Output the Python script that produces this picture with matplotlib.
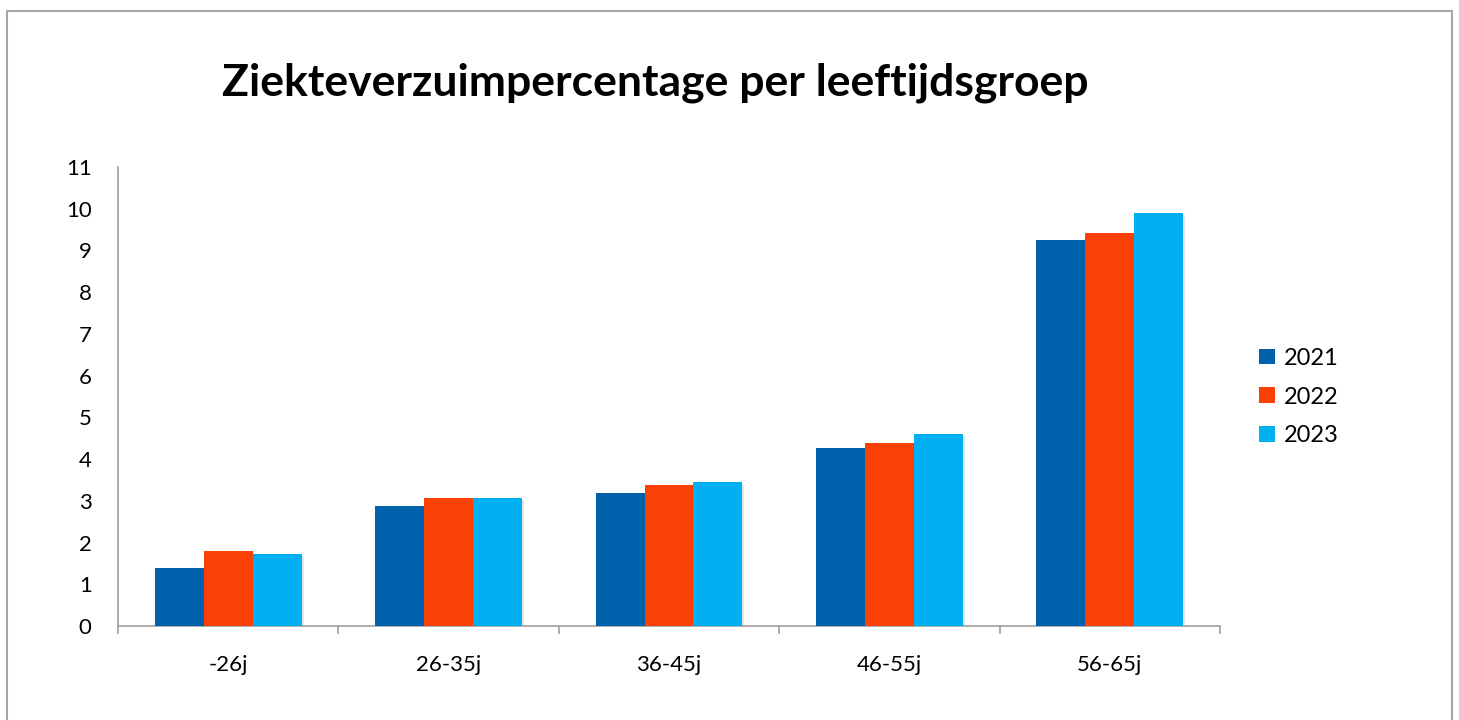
import matplotlib
matplotlib.use("Agg")
import matplotlib.pyplot as plt
import matplotlib.patheffects as pe
from matplotlib.patches import Rectangle, Patch
import numpy as np

plt.rcParams['font.family'] = ['Lato', 'DejaVu Sans']

# data
groups = ["-26j", "26-35j", "36-45j", "46-55j", "56-65j"]
years = ["2021", "2022", "2023"]
v2021 = [1.38, 2.88, 3.18, 4.26, 9.24]
v2022 = [1.80, 3.07, 3.37, 4.38, 9.43]
v2023 = [1.73, 3.07, 3.44, 4.60, 9.89]
colors = ["#0062AC", "#FA4005", "#00B0F0"]

fig = plt.figure(figsize=(14.59, 7.2), dpi=100)
fig.patch.set_facecolor("white")

# rand om de grafiek (onderkant valt buiten beeld)
fig.patches.append(Rectangle((6.5 / 1459, -0.05), (1452 - 6.5) / 1459, 1.05 - 11 / 720,
                             transform=fig.transFigure, fill=False,
                             edgecolor="#A6A6A6", linewidth=1.5))

ax = fig.add_axes([118 / 1459, 1 - 626 / 720, 1102 / 1459, 459 / 720])

x = np.arange(len(groups))
w = 0.222
shadow = [pe.SimplePatchShadow(offset=(1.5, -1.5), shadow_rgbFace="#999999", alpha=0.25), pe.Normal()]
for i, (vals, c) in enumerate(zip([v2021, v2022, v2023], colors)):
    bars = ax.bar(x + (i - 1) * w, vals, width=w, color=c, zorder=3)
    for b in bars:
        b.set_path_effects(shadow)

ax.set_xlim(-0.5, len(groups) - 0.5)
ax.set_ylim(0, 11)
ax.set_yticks(range(0, 12))
ax.tick_params(axis="y", length=0, pad=19, labelsize=16)

ax.set_xticks(np.arange(-0.5, len(groups), 1))
ax.set_xticklabels([])
ax.set_xticks(x, minor=True)
ax.set_xticklabels(groups, minor=True)
ax.tick_params(axis="x", which="major", length=6, color="#A0A0A0", width=1.2)
ax.tick_params(axis="x", which="minor", length=0, pad=21, labelsize=16)

for s in ["top", "right"]:
    ax.spines[s].set_visible(False)
for s in ["left", "bottom"]:
    ax.spines[s].set_color("#A0A0A0")
    ax.spines[s].set_linewidth(1.2)

fig.text(655 / 1459, 1 - 83 / 720, "Ziekteverzuimpercentage per leeftijdsgroep",
         ha="center", va="center", fontsize=32, fontweight="bold")

handles = [Patch(facecolor=c) for c in colors]
fig.legend(handles, years, loc="center left", bbox_to_anchor=(1238 / 1459, 1 - 397 / 720),
           frameon=False, fontsize=17, handlelength=0.65, handleheight=0.65,
           handletextpad=0.4, labelspacing=0.75)

fig.savefig("out.png", dpi=100)
